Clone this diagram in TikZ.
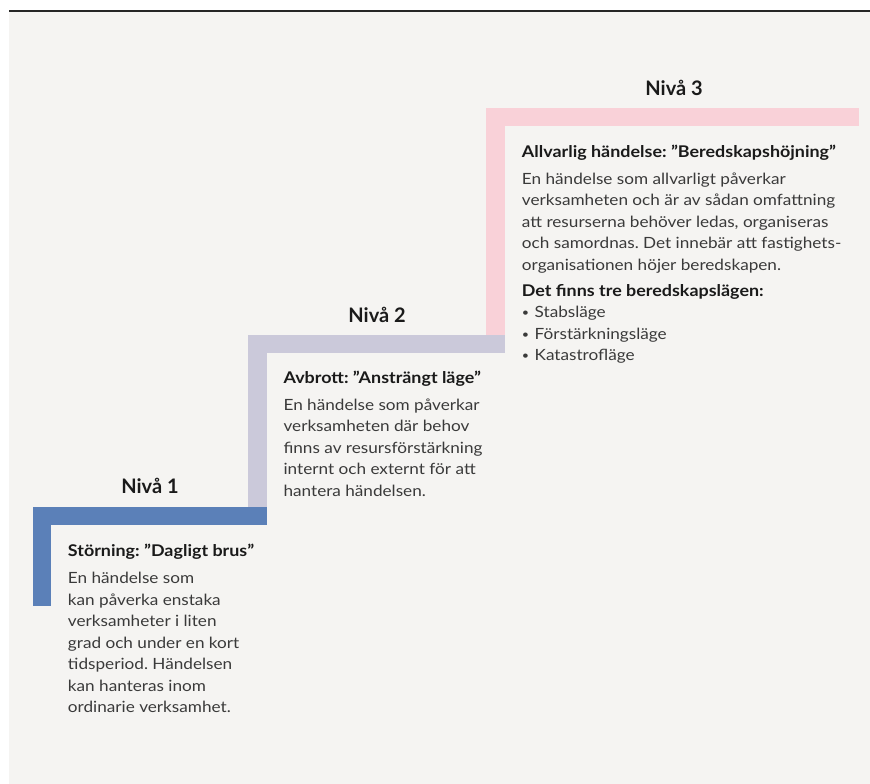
\documentclass[tikz,border=0pt]{standalone}
\usepackage{fontspec}
\setmainfont{Lato}[FakeStretch=1.11]
\newfontfamily\titlefont{Lato}
\definecolor{paper}{HTML}{F5F4F2}
\definecolor{stepone}{HTML}{5B80B8}
\definecolor{steptwo}{HTML}{CBC9DA}
\definecolor{stepthree}{HTML}{F9D1D8}
\definecolor{bodyink}{HTML}{3A3A3A}
\definecolor{headink}{HTML}{1A1A1A}
\tikzset{
  level/.style={anchor=base, font=\titlefont\fontsize{15}{18}\selectfont\bfseries, text=headink, inner sep=0pt},
  block/.style={anchor=base west, inner sep=0pt, text=bodyink,
    font=\frenchspacing\fontsize{11.6}{16.1}\selectfont},
}
\newcommand{\hd}[1]{\textcolor{headink}{\fontsize{12.1}{16.1}\selectfont\bfseries #1}}
\newcommand{\dotitem}{{\fontsize{8.5}{8.5}\selectfont\raisebox{0.12ex}{•}}\hspace{0.35em}}
\begin{document}
\begin{tikzpicture}[x=0.75pt, y=-0.75pt]
  \useasboundingbox (0,0) rectangle (870,784);
  % page background and rule
  \fill[white] (0,0) rectangle (870,784);
  \fill[paper] (9,11) rectangle (870,784);
  \fill[black!85] (9,9.8) rectangle (870,11.6);

  % the three steps
  \fill[stepthree] (486,108) rectangle (859,126);
  \fill[stepthree] (486,108) rectangle (504.5,334.5);
  \fill[steptwo] (248,334.5) rectangle (505,352.7);
  \fill[steptwo] (248,334.5) rectangle (266.7,507);
  \fill[stepone] (33,507) rectangle (266.7,525);
  \fill[stepone] (33,507) rectangle (51,605.7);

  % level titles
  \node[level] (n1) at (150,493) {Nivå 1};
  \node[level] (n2) at (377,322.7) {Nivå 2};
  \node[level] (n3) at (674,96) {Nivå 3};

  % descriptions
  \node[block] (t1) at (67.7,556.7) {\begin{tabular}[t]{@{}l@{}}
    \hd{Störning: ”Dagligt brus”}\\[4.3pt]
    En händelse som\\
    kan påverka enstaka\\
    verksamheter i liten\\
    grad och under en kort\\
    tidsperiod. Händelsen\\
    kan hanteras inom\\
    ordinarie verksamhet.
  \end{tabular}};
  \node[block] (t2) at (283.3,383.3) {\begin{tabular}[t]{@{}l@{}}
    \hd{Avbrott: ”Ansträngt läge”}\\[4.3pt]
    En händelse som påverkar\\
    verksamheten där behov\\
    finns av resursförstärkning\\
    internt och externt för att\\
    hantera händelsen.
  \end{tabular}};
  \node[block] (t3) at (521.7,157.3) {\begin{tabular}[t]{@{}l@{}}
    \hd{Allvarlig händelse: ”Beredskapshöjning”}\\[4.3pt]
    En händelse som allvarligt påverkar\\
    verksamheten och är av sådan omfattning\\
    att resurserna behöver ledas, organiseras\\
    och samordnas. Det innebär att fastighets-\\
    organisationen höjer beredskapen.\\[3.2pt]
    \hd{Det finns tre beredskapslägen:}\\
    \dotitem Stabsläge\\
    \dotitem Förstärkningsläge\\
    \dotitem Katastrofläge
  \end{tabular}};
\end{tikzpicture}
\end{document}
